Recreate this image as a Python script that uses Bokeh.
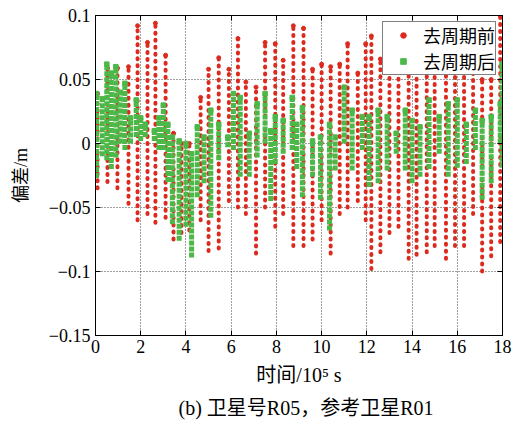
from bokeh.plotting import figure
from bokeh.models import (Range1d, FixedTicker, LinearAxis, Legend, LegendItem,
                          Title, ColumnDataSource)
from bokeh.embed import file_html
from bokeh.resources import INLINE

# ---- data ----
# red "去周期前": vertical streak columns (x in 10^5 s, top / bottom of streak in m)
red_x = [0.09, 0.53, 0.97, 1.46, 1.86, 2.3, 2.65, 3.1, 3.45, 3.8, 4.15, 4.65, 5.0,
         5.45, 5.9, 6.3, 6.65, 7.1, 7.5, 7.95, 8.3, 8.75, 9.2, 9.6, 10.0, 10.4,
         10.8, 11.15, 11.6, 11.95, 12.2, 12.6, 13.0, 13.4, 13.85, 14.2, 14.65,
         15.0, 15.5, 15.9, 16.3, 16.7, 17.1, 17.5, 17.9]
red_top = [0.039, 0.059, 0.059, 0.060, 0.092, 0.079, 0.094, 0.069, 0.008, 0.0,
           0.0, 0.036, 0.058, 0.067, 0.058, 0.082, 0.048, 0.044, 0.079, 0.078,
           0.065, 0.092, 0.090, 0.058, 0.062, 0.060, 0.062, 0.078, 0.055, 0.078,
           0.084, 0.066, 0.060, 0.060, 0.058, 0.060, 0.058, 0.060, 0.060, 0.058,
           0.060, 0.055, 0.050, 0.050, 0.100]
red_bot = [-0.035, -0.030, -0.035, -0.047, -0.060, -0.055, -0.062, -0.058, -0.075,
           -0.070, -0.068, -0.060, -0.084, -0.082, -0.045, -0.050, -0.055, -0.086,
           -0.050, -0.065, -0.055, -0.080, -0.080, -0.075, -0.060, -0.086, -0.055,
           -0.050, -0.045, -0.060, -0.098, -0.085, -0.070, -0.065, -0.090, -0.087,
           -0.085, -0.080, -0.090, -0.080, -0.080, -0.055, -0.100, -0.088, -0.077]

# green "去周期后": streak columns
green_x = [0.05, 0.3, 0.5, 0.7, 0.9, 1.1, 1.3, 1.55, 1.8, 2.0, 2.2, 2.6, 2.8, 3.0,
           3.2, 3.4, 3.7, 4.0, 4.25, 4.5, 4.8, 5.1, 5.45, 5.85, 6.1, 6.4, 6.8,
           7.15, 7.5, 7.75, 7.95, 8.3, 8.7, 8.9, 9.15, 9.6, 9.95, 10.35, 10.6,
           11.0, 11.35, 11.8, 12.1, 12.5, 12.9, 13.3, 13.7, 14.0, 14.35, 14.75,
           15.2, 15.6, 16.0, 16.4, 16.8, 17.1, 17.5, 17.9, 17.98]
green_top = [0.039, 0.035, 0.062, 0.055, 0.060, 0.040, 0.047, 0.020, 0.034, 0.020,
             0.015, 0.010, 0.020, 0.030, 0.015, 0.005, 0.002, 0.0, -0.008, 0.013,
             0.005, 0.026, 0.015, 0.005, 0.039, 0.036, 0.008, 0.031, 0.039, 0.010,
             0.021, 0.018, 0.036, 0.015, 0.028, 0.002, 0.005, 0.015, 0.005, 0.044,
             0.026, 0.021, 0.021, 0.026, 0.021, 0.008, 0.026, 0.018, 0.013, 0.034,
             0.021, 0.031, 0.034, 0.015, 0.026, 0.018, 0.021, 0.031, 0.062]
green_bot = [-0.027, -0.010, -0.013, -0.020, -0.011, 0.0, -0.005, 0.0, 0.005, 0.002,
             0.005, 0.002, -0.005, -0.005, -0.030, -0.063, -0.076, -0.065, -0.089,
             -0.042, -0.031, -0.058, -0.013, -0.003, -0.005, -0.026, -0.026, -0.011,
             0.0, -0.045, -0.016, -0.008, -0.005, -0.020, -0.042, -0.026, -0.044,
             -0.068, -0.021, 0.0, -0.021, -0.005, -0.034, -0.031, -0.021, -0.008,
             -0.021, -0.031, -0.026, -0.020, -0.008, -0.026, -0.019, -0.016, -0.005,
             -0.044, -0.031, 0.0, -0.019]

x_ticks = [0, 2, 4, 6, 8, 10, 12, 14, 16, 18]
y_ticks = [-0.15, -0.1, -0.05, 0, 0.05, 0.1]
y_tick_labels = ["\u22120.15", "\u22120.1", "\u22120.05", "0", "0.05", "0.1"]
series_labels = ["去周期前", "去周期后"]

RED = "#dc2a1e"
GREEN = "#4cb848"
SERIF = "'Liberation Serif', 'Noto Sans CJK SC'"

p = figure(width=526, height=426, output_backend="svg", toolbar_location=None,
           x_range=Range1d(0, 18), y_range=Range1d(-0.15, 0.1),
           min_border_left=95, min_border_right=24, min_border_top=15,
           min_border_bottom=91)
p.background_fill_color = "white"
p.border_fill_color = "white"
p.outline_line_color = "black"
p.outline_line_width = 1

red_src = ColumnDataSource(dict(x=red_x, top=red_top, bot=red_bot))
green_src = ColumnDataSource(dict(x=green_x, top=green_top, bot=green_bot))

p.segment(x0="x", y0="bot", x1="x", y1="top", source=red_src, line_color=RED,
          line_width=4, line_dash="1 6", line_cap="round")
r_red = p.scatter(x="x", y="top", source=red_src, marker="circle", size=4,
                  fill_color=RED, line_color=RED)
p.segment(x0="x", y0="bot", x1="x", y1="top", source=green_src, line_color=GREEN,
          line_width=5, line_dash="5 1")
r_green = p.scatter(x="x", y="top", source=green_src, marker="square", size=4.5,
                    fill_color=GREEN, line_color=GREEN)

# axes
p.xaxis.ticker = FixedTicker(ticks=x_ticks)
p.yaxis.ticker = FixedTicker(ticks=y_ticks)
p.yaxis.major_label_overrides = {t: s for t, s in zip(y_ticks, y_tick_labels)}
for ax in (p.xaxis[0], p.yaxis[0]):
    ax.major_tick_in = 5
    ax.major_tick_out = 0
    ax.minor_tick_in = 0
    ax.minor_tick_out = 0
    ax.axis_line_color = "black"
    ax.major_tick_line_color = "black"
    ax.major_label_text_font = SERIF
    ax.major_label_text_font_size = "18px"
    ax.major_label_text_color = "black"
    ax.axis_label_text_font = SERIF
    ax.axis_label_text_font_style = "normal"
    ax.axis_label_text_color = "black"
p.xaxis.major_label_standoff = 4
p.yaxis.major_label_standoff = 5
p.xaxis.axis_label = "时间/10\u2075 s"
p.xaxis.axis_label_text_font_size = "20px"
p.xaxis.axis_label_standoff = 8
p.yaxis.axis_label = "偏差/m"
p.yaxis.axis_label_text_font_size = "18px"
p.yaxis.axis_label_standoff = 15

for loc, ticks in (("above", x_ticks), ("right", y_ticks)):
    ax = LinearAxis(ticker=FixedTicker(ticks=ticks), major_tick_in=5, major_tick_out=0,
                    minor_tick_in=0, minor_tick_out=0, major_label_text_color=None,
                    major_label_text_font_size="1px", major_label_standoff=0,
                    axis_line_color="black", major_tick_line_color="black")
    p.add_layout(ax, loc)

p.xgrid.ticker = FixedTicker(ticks=x_ticks)
p.ygrid.ticker = FixedTicker(ticks=y_ticks)
p.grid.grid_line_color = "black"
p.grid.grid_line_alpha = 0.75
p.grid.grid_line_dash = "1 2"
p.grid.grid_line_width = 1

legend = Legend(items=[LegendItem(label=series_labels[0], renderers=[r_red]),
                       LegendItem(label=series_labels[1], renderers=[r_green])],
                location="top_right")
legend.margin = 6
legend.padding = 0
legend.spacing = -8
legend.glyph_width = 40
legend.glyph_height = 14
legend.label_height = 14
legend.label_standoff = 0
legend.label_text_font = SERIF
legend.label_text_font_size = "18px"
legend.label_text_line_height = 1.0
legend.label_text_color = "black"
legend.border_line_color = "black"
legend.border_line_width = 1.5
legend.background_fill_color = "white"
legend.background_fill_alpha = 1
p.add_layout(legend)

cap = Title(text="(b) 卫星号R05，参考卫星R01", align="left", text_font=SERIF,
            text_font_size="20px", text_font_style="normal", text_color="black",
            standoff=12, offset=83)
p.add_layout(cap, "below")

open("out.html", "w").write(file_html(p, INLINE))
